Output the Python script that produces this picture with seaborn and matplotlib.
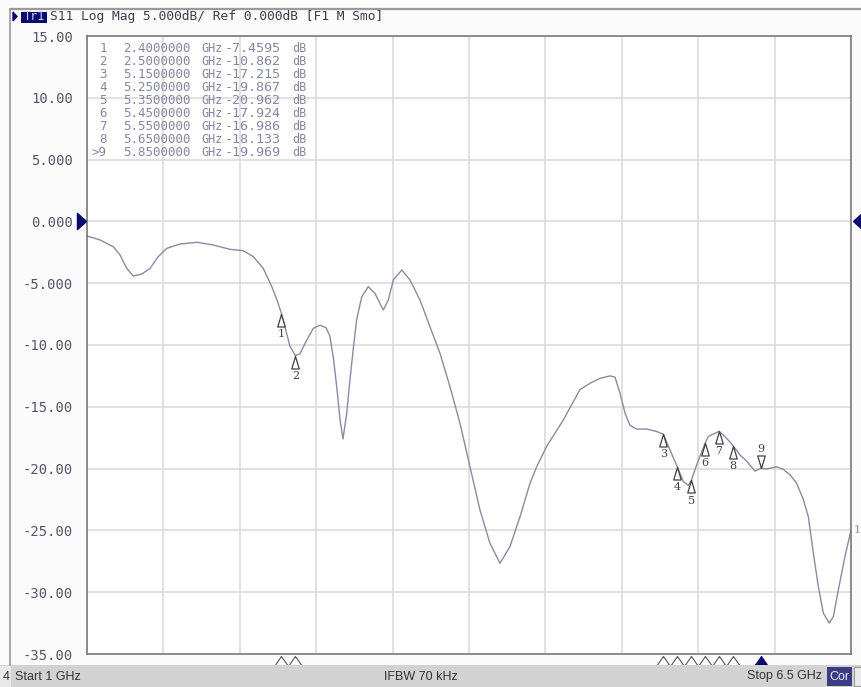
import numpy as np
import pandas as pd
import matplotlib
matplotlib.use("Agg")
import matplotlib.pyplot as plt
import matplotlib.transforms as mtransforms
from matplotlib.patches import Rectangle, Polygon
from matplotlib.lines import Line2D
import seaborn as sns

# ---------------- data ----------------
freq_ghz = [1.000, 1.094, 1.189, 1.238, 1.286, 1.333, 1.394, 1.454, 1.513, 1.574,
            1.670, 1.790, 1.909, 2.029, 2.125, 2.197, 2.269, 2.330, 2.366, 2.400,
            2.461, 2.500, 2.533, 2.582, 2.629, 2.677, 2.721, 2.749, 2.773, 2.798,
            2.821, 2.843, 2.870, 2.893, 2.917, 2.942, 2.978, 3.025, 3.073, 3.133,
            3.169, 3.205, 3.266, 3.325, 3.397, 3.469, 3.541, 3.613, 3.685, 3.757,
            3.829, 3.901, 3.973, 4.045, 4.117, 4.189, 4.237, 4.309, 4.429, 4.549,
            4.621, 4.693, 4.765, 4.801, 4.837, 4.873, 4.909, 4.957, 5.029, 5.101,
            5.150, 5.197, 5.250, 5.293, 5.329, 5.350, 5.389, 5.450, 5.473, 5.550,
            5.605, 5.650, 5.701, 5.749, 5.809, 5.850, 5.893, 5.965, 6.013, 6.061,
            6.109, 6.157, 6.193, 6.229, 6.265, 6.301, 6.344, 6.373, 6.409, 6.457,
            6.500]
s11_db = [-1.18, -1.50, -2.05, -2.72, -3.80, -4.42, -4.26, -3.80, -2.85, -2.18,
          -1.83, -1.69, -1.91, -2.26, -2.37, -2.85, -3.80, -5.28, -6.30, -7.4595,
          -10.1, -10.862, -10.7, -9.6, -8.65, -8.4, -8.6, -9.3, -11.0, -13.4,
          -16.0, -17.6, -15.5, -12.8, -10.3, -7.9, -6.1, -5.28, -5.82, -7.17,
          -6.36, -4.74, -3.93, -4.74, -6.36, -8.52, -10.67, -13.37, -16.33, -19.85,
          -23.35, -26.05, -27.66, -26.3, -23.9, -21.2, -19.85, -18.2, -16.07, -13.6,
          -13.1, -12.7, -12.5, -12.6, -13.9, -15.5, -16.5, -16.8, -16.8, -17.0,
          -17.215, -18.5, -19.867, -21.05, -21.35, -20.962, -19.7, -17.924, -17.4, -16.986,
          -17.55, -18.133, -18.9, -19.4, -20.2, -19.969, -20.03, -19.85, -20.06, -20.5,
          -21.2, -22.5, -23.9, -26.85, -29.55, -31.7, -32.5, -31.97, -29.8, -27.1,
          -24.97]

marker_ids = ["1", "2", "3", "4", "5", "6", "7", "8", "9"]
marker_freq = [2.40, 2.50, 5.15, 5.25, 5.35, 5.45, 5.55, 5.65, 5.85]
marker_db = [-7.4595, -10.862, -17.215, -19.867, -20.962, -17.924, -16.986, -18.133, -19.969]
active_marker = "9"

y_ticks = [15, 10, 5, 0, -5, -10, -15, -20, -25, -30, -35]
y_tick_labels = ["15.00", "10.00", "5.000", "0.000", "-5.000", "-10.00",
                 "-15.00", "-20.00", "-25.00", "-30.00", "-35.00"]
x_start, x_stop = 1.0, 6.5
ref_level = 0.0

header_text = "S11 Log Mag 5.000dB/ Ref 0.000dB [F1 M Smo]"
trace_name = "Tr1"
status_start = "Start 1 GHz"
status_ifbw = "IFBW 70 kHz"
status_stop = "Stop 6.5 GHz"
status_cor = "Cor"
channel = "4"

df = pd.DataFrame({"freq": freq_ghz, "s11": s11_db})

# ---------------- figure ----------------
W, H = 861, 687
sns.set_style("white")
plt.rcParams["font.family"] = ["DejaVu Sans"]
fig = plt.figure(figsize=(W / 100, H / 100), dpi=100)
fig.patch.set_facecolor("#fbfbfb")


def P(x, y):
    return (x / W, 1 - y / H)


ax = fig.add_axes([87 / W, 1 - 654 / H, 764 / W, 618 / H])
ax.set_facecolor("white")

TRACE = "#8a8aa6"
NAVY = "#0a0a6e"
MONO = "DejaVu Sans Mono"

sns.lineplot(data=df, x="freq", y="s11", ax=ax, color=TRACE, lw=1.0,
             estimator=None, sort=False)

ax.set_xlim(x_start, x_stop)
ax.set_ylim(-35, 15)
ax.set_xticks(np.linspace(x_start, x_stop, 11))
ax.set_xticklabels([])
ax.set_yticks(y_ticks)
ax.set_yticklabels(y_tick_labels, fontfamily=MONO, fontsize=10, color="#55556a")
ax.tick_params(axis="both", length=0, pad=10)
ax.set_xlabel("")
ax.set_ylabel("")
ax.grid(True, color="#d8d8d8", lw=1.1)
for s in ax.spines.values():
    s.set_color("#7a7a7a")
    s.set_linewidth(1.2)

# trace markers (tip at the data point)
up_tri = [(0, 0), (-0.3, -1), (0.3, -1), (0, 0)]
dn_tri = [(0, 0), (-0.3, 1), (0.3, 1), (0, 0)]
for mid, mf, md in zip(marker_ids, marker_freq, marker_db):
    if mid == active_marker:
        ax.plot([mf], [md], ls="none", marker=dn_tri, ms=18, mfc="white",
                mec="#404040", mew=0.9, zorder=5)
        ax.annotate(mid, (mf, md), xytext=(0, 13.5), textcoords="offset points",
                    ha="center", va="center", fontsize=8, color="#404040",
                    fontfamily="DejaVu Serif")
    else:
        ax.plot([mf], [md], ls="none", marker=up_tri, ms=18, mfc="white",
                mec="#404040", mew=0.9, zorder=5)
        ax.annotate(mid, (mf, md), xytext=(0, -14.5), textcoords="offset points",
                    ha="center", va="center", fontsize=8, color="#404040",
                    fontfamily="DejaVu Serif")

# marker position triangles under the axis
blend_xb = mtransforms.blended_transform_factory(ax.transData, ax.transAxes)
base_tri = [(0, 0), (-0.7, -1), (0.7, -1), (0, 0)]
for mid, mf in zip(marker_ids, marker_freq):
    filled = mid == active_marker
    ax.plot([mf], [-0.003], transform=blend_xb, ls="none", marker=base_tri, ms=14.5,
            mfc=NAVY if filled else "white", mec=NAVY if filled else "#555555",
            mew=0.8, clip_on=False, zorder=6)

# reference level arrows
blend_ya = mtransforms.blended_transform_factory(ax.transAxes, ax.transData)
right_tri = [(0, 0), (-1, 0.9), (-1, -0.9), (0, 0)]
left_tri = [(0, 0), (1, 0.9), (1, -0.9), (0, 0)]
ax.plot([-0.0015], [ref_level], transform=blend_ya, ls="none", marker=right_tri,
        ms=13, mfc=NAVY, mec=NAVY, clip_on=False, zorder=6)
ax.plot([1.0025], [ref_level], transform=blend_ya, ls="none", marker=left_tri,
        ms=13, mfc=NAVY, mec=NAVY, clip_on=False, zorder=6)

# trace end label
ax.text(1.003, s11_db[-1], "1", transform=blend_ya, ha="left", va="center",
        fontsize=8, color="#9090a8", fontfamily="DejaVu Serif", clip_on=False)

# marker table
row_y0, row_dy = 49, 12.9
c = "#8686a4"
for i, (mid, mf, md) in enumerate(zip(marker_ids, marker_freq, marker_db)):
    yy = row_y0 + i * row_dy
    lab = (">" + mid) if mid == active_marker else mid
    fig.text(*P(107, yy), lab, ha="right", va="center", fontfamily=MONO,
             fontsize=9, color=c)
    fig.text(*P(123, yy), f"{mf:.7f}", ha="left", va="center", fontfamily=MONO,
             fontsize=9, color=c)
    fig.text(*P(201, yy), "GHz", ha="left", va="center", fontfamily=MONO,
             fontsize=8.5, color=c)
    vs = f"{md:.4f}" if abs(md) < 10 else f"{md:.3f}"
    fig.text(*P(225, yy), vs, ha="left", va="center", fontfamily=MONO,
             fontsize=9.6, color=c)
    fig.text(*P(292, yy), "dB", ha="left", va="center", fontfamily=MONO,
             fontsize=8.5, color=c)

# outer frame lines
fig.add_artist(Line2D([10 / W, 1.0], [1 - 9 / H] * 2, transform=fig.transFigure,
                      color="#9a9a9a", lw=1.6))
fig.add_artist(Line2D([10 / W] * 2, [1 - 9 / H, 1 - 665 / H], transform=fig.transFigure,
                      color="#9a9a9a", lw=1.2))

# header
fig.add_artist(Polygon([P(13, 12), P(17, 16.5), P(13, 21)], closed=True,
                       transform=fig.transFigure, fc=NAVY, ec=NAVY))
fig.add_artist(Rectangle(P(21, 22.5), 26 / W, 11 / H, transform=fig.transFigure,
                         fc=NAVY, ec="none"))
fig.text(*P(34, 16.8), trace_name, ha="center", va="center", fontfamily=MONO,
         fontsize=8.5, color="#c8d0ff")
fig.text(*P(50, 16.5), header_text, ha="left", va="center", fontfamily=MONO,
         fontsize=9.3, color="#3c3c50")

# status bar
fig.add_artist(Rectangle((0, 0), 1, 22 / H, transform=fig.transFigure,
                         fc="#d2d2d2", ec="none"))
fig.add_artist(Rectangle(P(0, 687), 11 / W, 21 / H, transform=fig.transFigure,
                         fc="#e8e8e8", ec="none"))
sb_font = ["Liberation Sans", "DejaVu Sans"]
sb_y = 676.5
fig.text(*P(3, sb_y), channel, ha="left", va="center", fontfamily=sb_font,
         fontsize=9, color="#333333")
fig.text(*P(15, sb_y), status_start, ha="left", va="center", fontfamily=sb_font,
         fontsize=9, color="#333333")
fig.text(*P(421, sb_y), status_ifbw, ha="center", va="center", fontfamily=sb_font,
         fontsize=9, color="#333333")
fig.text(*P(822, sb_y), status_stop, ha="right", va="center", fontfamily=sb_font,
         fontsize=9, color="#333333")
fig.add_artist(Rectangle(P(827, 686), 25 / W, 19 / H, transform=fig.transFigure,
                         fc="#3c3c84", ec="none"))
fig.text(*P(839.5, sb_y), status_cor, ha="center", va="center", fontfamily=sb_font,
         fontsize=9, color="#e8e8ff")
fig.add_artist(Rectangle(P(854, 686), 7 / W, 19 / H, transform=fig.transFigure,
                         fc="#ececec", ec="#9a9a9a", lw=0.8))

fig.savefig("out.png", dpi=100, facecolor=fig.get_facecolor())
